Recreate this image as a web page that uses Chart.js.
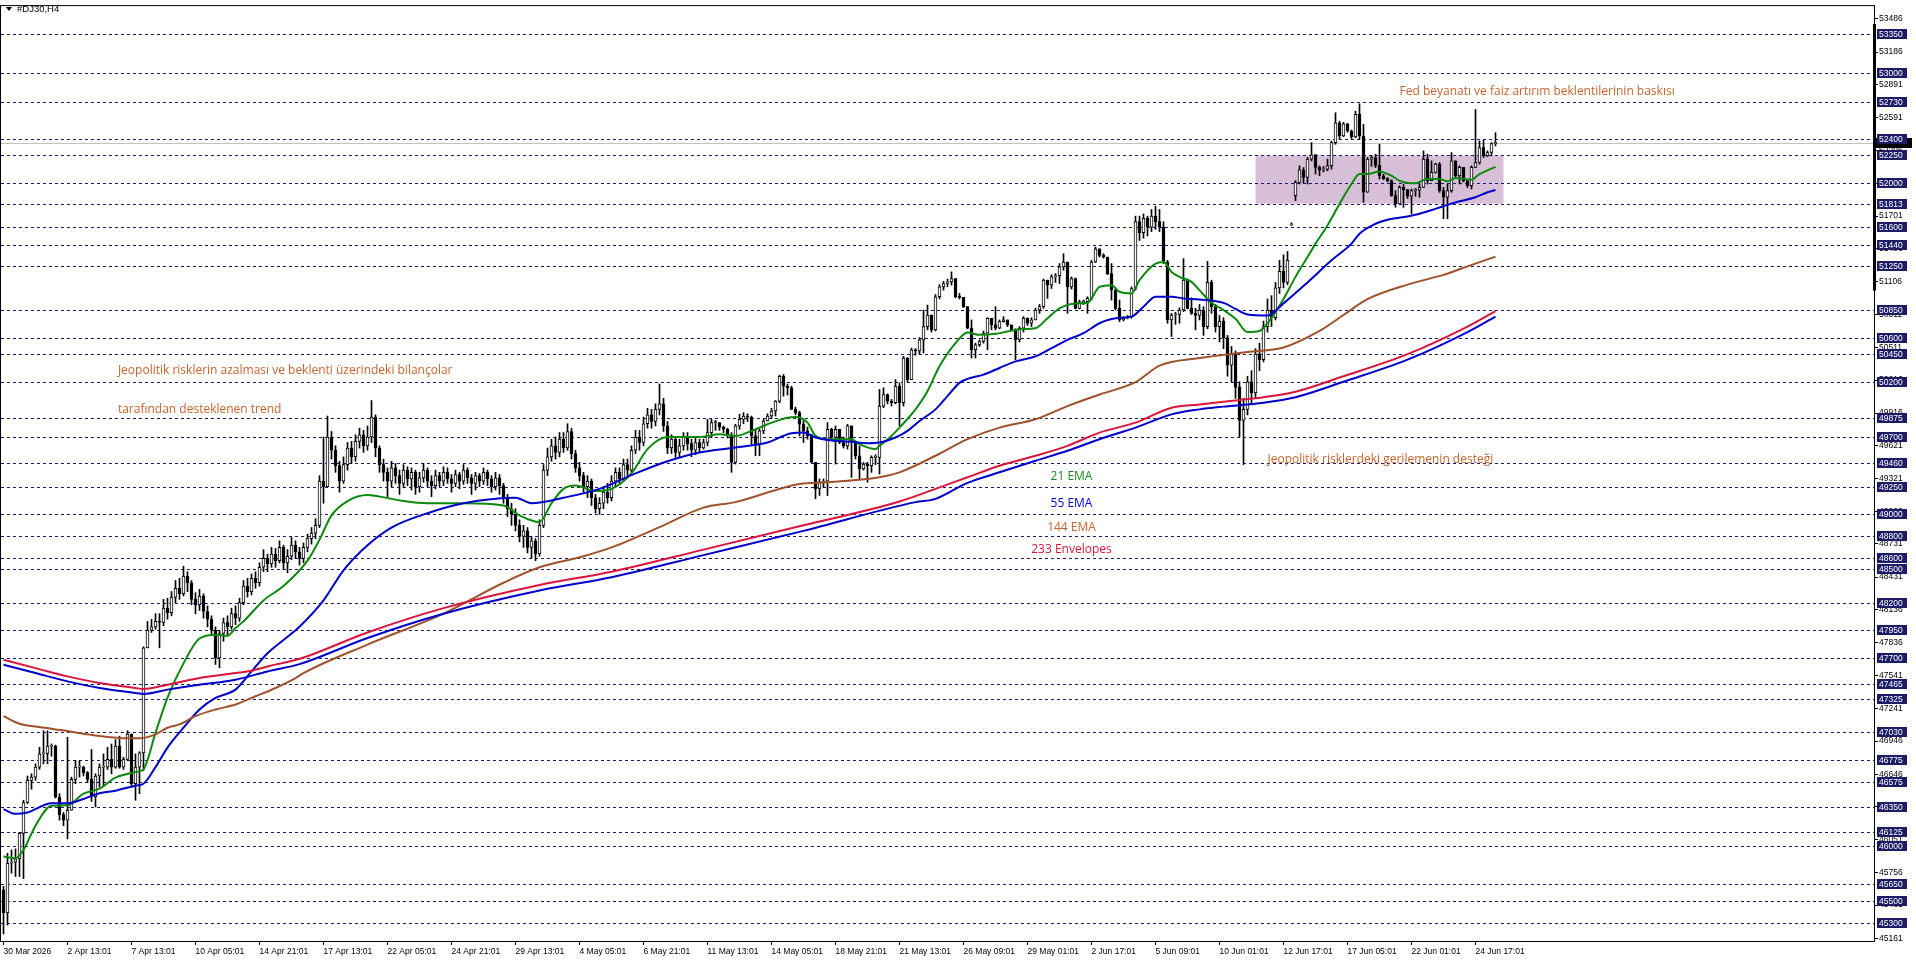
<!DOCTYPE html>
<html>
<head>
<meta charset="utf-8">
<title>#DJ30,H4</title>
<script src="https://cdn.jsdelivr.net/npm/chart.js@4.4.1/dist/chart.umd.min.js"></script>
<style>
  html, body { margin: 0; padding: 0; background: #fff; }
</style>
</head>
<body>
<canvas id="myChart" width="1916" height="963"></canvas>
<script>
// H4 bars, bar 0 = first bar on screen. open = previous close unless listed in openGaps
const closes = [
  45390, 45840, 45850, 45880, 46110, 46390, 46590, 46620, 46710, 46830,
  46835, 46900, 46900, 46440, 46280, 46230, 46320, 46600, 46710, 46710,
  46660, 46600, 46440, 46630, 46710, 46710, 46780, 46710, 46900, 46710,
  46780, 47010, 46560, 46710, 46840, 47790, 47950, 47980, 48030, 48020,
  48150, 48110, 48250, 48330, 48280, 48440, 48380, 48230, 48180, 48260,
  48120, 48050, 47950, 47700, 47920, 48020, 47980, 48100, 48060, 48200,
  48350, 48300, 48420, 48380, 48520, 48600, 48550, 48640, 48580, 48700,
  48560, 48620, 48720, 48660, 48600, 48700, 48780, 48830, 48900, 49300,
  49250, 49700, 49580, 49440, 49300, 49450, 49600, 49520, 49660, 49720,
  49620, 49700, 49880, 49600, 49450, 49380, 49300, 49420, 49350, 49280,
  49400, 49320, 49380, 49250, 49330, 49400, 49300, 49260, 49350, 49300,
  49380, 49320, 49280, 49360, 49300, 49400, 49330, 49280, 49350, 49300,
  49380, 49320, 49250, 49330, 49260, 49150, 49050, 49000, 48900, 48800,
  48850, 48700, 48760, 48640, 48900, 49400, 49520, 49620, 49560, 49680,
  49600, 49750, 49550, 49420, 49350, 49250, 49300, 49150, 49050, 49100,
  49200, 49150, 49300, 49380, 49320, 49450, 49400, 49580, 49700, 49650,
  49820, 49900, 49840, 49950, 50000, 49800, 49600, 49680, 49560, 49620,
  49700, 49640, 49580, 49650, 49600, 49650, 49740, 49830, 49830, 49790,
  49770, 49710, 49470, 49800, 49860, 49890, 49880, 49710, 49635, 49755,
  49845, 49890, 49935, 50025, 50250, 50160, 50145, 49950, 49920, 49815,
  49755, 49710, 49470, 49230, 49290, 49300, 49770, 49695, 49770, 49650,
  49620, 49800, 49650, 49530, 49410, 49455, 49440, 49515, 49515, 49980,
  50085, 50025, 50010, 50160, 50010, 50415, 50220, 50490, 50480, 50580,
  50700, 50805, 50670, 50970, 51060, 51090, 51105, 51135, 50970, 50965,
  50880, 50685, 50490, 50535, 50565, 50640, 50775, 50715, 50685, 50745,
  50760, 50715, 50670, 50580, 50685, 50775, 50730, 50760, 50850, 50880,
  51120, 51075, 51150, 51160, 51240, 51285, 51060, 51135, 50865, 50925,
  50925, 50955, 51285, 51405, 51345, 51330, 51180, 51030, 50865, 50760,
  50775, 50790, 51045, 51650, 51550, 51680, 51600, 51700, 51650, 51600,
  51285, 50760, 50805, 50810, 50850, 51120, 50865, 50820, 50800, 50850,
  50700, 51100, 50880, 50700, 50750, 50600, 50350, 50450, 50150, 49850,
  49950, 50200, 50100, 50450, 50400, 50700, 50850, 50780, 51050, 51200,
  51100, 51300, 51630, 52006, 52120, 52050, 52216, 52255, 52141, 52117,
  52126, 52156, 52366, 52546, 52426, 52537, 52471, 52417, 52621, 52426,
  51916, 52216, 52230, 52160, 52066, 52040, 52021, 51886, 51811, 51961,
  51940, 51880, 51931, 51935, 51961, 52216, 52021, 52096, 52171, 51931,
  51871, 51931, 52201, 52066, 52141, 52020, 51976, 52141, 52186, 52321,
  52246, 52276, 52357, 52360
];
const highs = [
  45630, 45930, 45960, 45970, 46120, 46410, 46630, 46650, 46740, 46890,
  47040, 47040, 46920, 46910, 46470, 46300, 46980, 46620, 46770, 46770,
  46720, 46670, 46870, 46650, 46740, 46830, 46890, 46920, 46960, 46990,
  46800, 47040, 47010, 46830, 46850, 47800, 48030, 48050, 48100, 48100,
  48230, 48240, 48300, 48400, 48420, 48530, 48480, 48400, 48290, 48320,
  48280, 48170, 48080, 47980, 47950, 48060, 48080, 48150, 48170, 48240,
  48400, 48420, 48460, 48480, 48560, 48680, 48640, 48700, 48690, 48760,
  48720, 48680, 48790, 48760, 48700, 48740, 48820, 48880, 48960, 49350,
  49700, 49890, 49750, 49620, 49480, 49520, 49650, 49660, 49720, 49780,
  49760, 49800, 50030, 49900, 49620, 49500, 49420, 49480, 49460, 49400,
  49450, 49430, 49420, 49400, 49380, 49460, 49420, 49350, 49400, 49380,
  49430, 49420, 49360, 49400, 49380, 49450, 49420, 49360, 49380, 49370,
  49420, 49400, 49350, 49380, 49360, 49280, 49180, 49100, 49050, 48950,
  48900, 48880, 48800, 48780, 48950, 49450, 49600, 49680, 49700, 49740,
  49740, 49820, 49780, 49580, 49470, 49380, 49350, 49320, 49180, 49150,
  49250, 49280, 49350, 49420, 49420, 49500, 49500, 49620, 49760, 49760,
  49880, 49960, 49950, 50000, 50180, 50050, 49840, 49720, 49700, 49680,
  49740, 49740, 49680, 49700, 49680, 49680, 49860, 49860, 49850, 49830,
  49800, 49780, 49740, 49815, 49905, 49920, 49910, 49890, 49760, 49770,
  49860, 49910, 49960, 50030, 50260, 50265, 50180, 50160, 49970, 49935,
  49850, 49790, 49725, 49470, 49320, 49320, 49830, 49780, 49800, 49740,
  49700, 49815, 49725, 49660, 49620, 49470, 49470, 49530, 49540, 50130,
  50145, 50090, 50040, 50220, 50190, 50430, 50420, 50505, 50500, 50600,
  50850, 50895, 50800, 50990, 51080, 51110, 51130, 51195, 51130, 51000,
  50960, 50880, 50760, 50550, 50580, 50660, 50780, 50775, 50880, 50760,
  50790, 50760, 50700, 50680, 50700, 50790, 50780, 50780, 50865, 50900,
  51130, 51120, 51170, 51180, 51270, 51360, 51280, 51150, 51140, 50940,
  50940, 50970, 51300, 51420, 51400, 51360, 51330, 51270, 51045, 50940,
  50790, 50800, 51060, 51700, 51700, 51720, 51700, 51760, 51790, 51760,
  51650, 51300, 50820, 50830, 50870, 51315, 51130, 50960, 50865, 50900,
  50880, 51290, 51120, 50900, 50800, 50780, 50620, 50520, 50480, 50200,
  50050, 50250, 50300, 50500, 50550, 50750, 50950, 50980, 51100, 51300,
  51350, 51380, 51640, 52021, 52156, 52140, 52231, 52366, 52260, 52156,
  52150, 52216, 52381, 52636, 52560, 52550, 52540, 52480, 52651, 52717,
  52531, 52231, 52250, 52260, 52351, 52080, 52050, 52030, 51931, 51976,
  51990, 51940, 51946, 51950, 51991, 52291, 52261, 52201, 52180, 52186,
  51960, 51991, 52276, 52201, 52156, 52070, 52030, 52156, 52666, 52381,
  52387, 52291, 52366, 52456
];
const lows = [
  45200, 45280, 45750, 45720, 45720, 45700, 46380, 46510, 46590, 46690,
  46740, 46740, 46810, 46430, 46230, 46180, 46060, 46330, 46560, 46620,
  46630, 46570, 46400, 46350, 46530, 46540, 46690, 46650, 46700, 46700,
  46690, 46770, 46530, 46410, 46470, 46680, 47790, 47930, 47960, 47790,
  47990, 48050, 48080, 48200, 48230, 48260, 48300, 48180, 48100, 48130,
  48060, 47980, 47900, 47640, 47610, 47850, 47900, 47960, 48000, 48030,
  48180, 48250, 48270, 48330, 48350, 48480, 48480, 48520, 48520, 48560,
  48500, 48470, 48590, 48600, 48540, 48560, 48660, 48730, 48780, 48880,
  49100, 49250, 49500, 49380, 49200, 49280, 49400, 49460, 49480, 49600,
  49560, 49580, 49650, 49520, 49380, 49300, 49150, 49250, 49280, 49180,
  49240, 49260, 49220, 49180, 49200, 49290, 49250, 49160, 49230, 49250,
  49260, 49280, 49200, 49250, 49230, 49270, 49280, 49180, 49220, 49250,
  49270, 49260, 49200, 49220, 49180, 49100, 48980, 48900, 48850, 48750,
  48700, 48650, 48600, 48580, 48620, 48880, 49350, 49480, 49500, 49520,
  49560, 49580, 49500, 49380, 49300, 49200, 49150, 49080, 49010, 49000,
  49050, 49100, 49120, 49250, 49270, 49300, 49350, 49380, 49550, 49580,
  49620, 49780, 49780, 49800, 49900, 49750, 49550, 49550, 49500, 49520,
  49580, 49580, 49520, 49540, 49560, 49590, 49620, 49695, 49760, 49760,
  49740, 49690, 49380, 49455, 49770, 49820, 49840, 49635, 49530, 49530,
  49730, 49850, 49870, 49890, 50010, 50070, 50080, 49950, 49900, 49710,
  49650, 49680, 49470, 49140, 49170, 49240, 49170, 49680, 49455, 49640,
  49600, 49590, 49335, 49500, 49320, 49400, 49290, 49380, 49450, 49365,
  49965, 50000, 49980, 50000, 49800, 49980, 50200, 50385, 50440, 50450,
  50460, 50670, 50650, 50660, 50950, 51030, 51060, 51075, 50960, 50950,
  50870, 50680, 50415, 50415, 50520, 50550, 50490, 50670, 50670, 50680,
  50740, 50700, 50660, 50400, 50560, 50650, 50710, 50700, 50760, 50820,
  50865, 50955, 51045, 51100, 51090, 51210, 50820, 51040, 50860, 50860,
  50900, 50820, 50940, 51280, 51330, 51320, 51170, 50940, 50850, 50745,
  50750, 50770, 50775, 51030, 51480, 51500, 51520, 51560, 51580, 51560,
  51270, 50730, 50610, 50720, 50730, 50835, 50860, 50810, 50670, 50760,
  50620, 50680, 50820, 50650, 50560, 50500, 50250, 50200, 50050, 49700,
  49450, 49900, 50000, 50050, 50300, 50380, 50650, 50700, 50760, 51000,
  51050, 51080, 51615, 51841, 51991, 52000, 51991, 52200, 52081, 52066,
  52100, 52110, 52126, 52351, 52396, 52420, 52460, 52400, 52411, 52396,
  51826, 51991, 52150, 52140, 52036, 52030, 52010, 51880, 51781, 51811,
  51780, 51860, 51721, 51880, 51871, 51961, 51991, 52051, 52090, 51916,
  51676, 51676, 51916, 52051, 51991, 52010, 51960, 51946, 52140, 52171,
  52231, 52240, 52246, 52336
];
const openGaps = [[0, 45600], [322, 51620], [323, 51886]];

// indicator lines as [bar, price]
const ema21 = [
  [0,45900],[3,45885],[5,45960],[8,46180],[12,46360],[16,46365],[20,46470],[24,46515],
  [28,46615],[33,46665],[35,46690],[38,47020],[41,47340],[45,47650],[49,47875],[53,47910],
  [56,47900],[58,47970],[60,48030],[65,48220],[70,48350],[76,48580],[79,48770],[82,48990],
  [86,49120],[91,49175],[94,49160],[100,49120],[106,49100],[115,49100],[125,49080],[129,48990],
  [134,48930],[137,49100],[140,49230],[143,49260],[148,49210],[152,49230],[157,49370],[161,49590],
  [166,49700],[170,49700],[174,49700],[179,49725],[183,49710],[187,49755],[191,49815],[196,49875],
  [198,49880],[201,49830],[203,49710],[206,49680],[212,49680],[214,49635],[218,49590],[219,49620],
  [222,49710],[224,49785],[228,49950],[231,50115],[234,50340],[238,50550],[241,50646],[244,50625],
  [248,50634],[251,50655],[254,50676],[258,50685],[261,50775],[264,50865],[268,50910],[271,50916],
  [274,51060],[277,51075],[279,51015],[282,51000],[284,51120],[288,51270],[290,51285],[292,51195],
  [294,51150],[297,51105],[299,51030],[302,50915],[305,50850],[308,50770],[311,50650],[314,50660],
  [317,50780],[320,50950],[323,51150],[326,51330],[328,51451],[331,51616],[334,51811],[337,51991],
  [339,52081],[341,52081],[344,52105],[347,52066],[349,52021],[353,51997],[356,52036],[359,52036],
  [361,52015],[363,52045],[367,52030],[369,52081],[373,52147]
];
const ema55 = [
  [0,46330],[3,46287],[6,46300],[12,46383],[16,46383],[20,46422],[24,46473],[28,46497],
  [33,46542],[35,46560],[38,46710],[41,46887],[45,47067],[49,47232],[53,47337],[58,47412],
  [62,47577],[66,47742],[70,47862],[74,47982],[80,48220],[85,48493],[91,48720],[97,48880],
  [106,49010],[115,49100],[128,49150],[132,49100],[140,49150],[149,49230],[158,49370],[166,49480],
  [174,49560],[183,49605],[191,49650],[197,49734],[200,49740],[203,49695],[208,49665],[212,49656],
  [216,49644],[219,49650],[223,49695],[226,49755],[229,49845],[233,49950],[236,50070],[239,50190],
  [241,50226],[245,50265],[249,50325],[253,50385],[258,50430],[262,50505],[266,50580],[270,50640],
  [274,50730],[278,50775],[282,50790],[285,50880],[288,50970],[292,50970],[295,50955],[299,50946],
  [305,50915],[308,50860],[311,50810],[316,50800],[320,50910],[326,51100],[332,51300],[337,51451],
  [339,51541],[343,51631],[346,51667],[351,51697],[354,51721],[358,51766],[361,51802],[364,51835],
  [368,51871],[371,51916],[373,51937]
];
const ema144 = [
  [0,47172],[4,47103],[9,47073],[13,47052],[16,47037],[21,47007],[26,46983],[31,46971],
  [34,46971],[38,47007],[41,47067],[44,47097],[48,47172],[53,47232],[58,47277],[63,47352],
  [68,47427],[73,47517],[75,47562],[91,47820],[110,48100],[125,48380],[134,48520],[145,48620],
  [152,48700],[165,48900],[175,49060],[183,49110],[199,49275],[206,49290],[219,49335],[224,49380],
  [233,49530],[241,49680],[249,49785],[258,49860],[266,49980],[274,50085],[283,50196],[289,50346],
  [299,50415],[302,50430],[311,50470],[320,50510],[329,50660],[335,50805],[341,50948],[351,51080],
  [360,51168],[366,51245],[373,51333]
];
const envUpper = [
  [0,47682],[8,47607],[16,47532],[24,47472],[33,47427],[35,47418],[41,47457],[49,47517],
  [58,47562],[62,47583],[66,47622],[74,47691],[91,47930],[110,48150],[134,48360],[152,48480],
  [175,48680],[200,48900],[224,49116],[233,49230],[241,49335],[249,49440],[258,49530],[266,49620],
  [274,49740],[283,49830],[292,49965],[299,49995],[305,50020],[315,50060],[323,50110],[335,50250],
  [351,50450],[366,50700],[373,50840]
];
const envLower = [
  [0,47637],[8,47562],[16,47487],[24,47427],[33,47382],[35,47373],[41,47412],[49,47457],
  [58,47502],[66,47577],[74,47643],[91,47880],[110,48100],[134,48310],[152,48430],[175,48630],
  [200,48850],[228,49110],[233,49140],[241,49284],[249,49380],[258,49485],[266,49575],[274,49680],
  [283,49785],[292,49905],[299,49950],[305,49975],[315,50010],[323,50060],[335,50200],[351,50400],
  [366,50650],[373,50790]
];

// time axis: one label every 16 bars
const dateLabels = [
  "30 Mar 2026", "2 Apr 13:01", "7 Apr 13:01", "10 Apr 05:01", "14 Apr 21:01", "17 Apr 13:01",
  "22 Apr 05:01", "24 Apr 21:01", "29 Apr 13:01", "4 May 05:01", "6 May 21:01", "11 May 13:01",
  "14 May 05:01", "18 May 21:01", "21 May 13:01", "26 May 09:01", "29 May 01:01", "2 Jun 17:01",
  "5 Jun 09:01", "10 Jun 01:01", "12 Jun 17:01", "17 Jun 05:01", "22 Jun 01:01", "24 Jun 17:01"
];
const labelEvery = 16;

// price axis ticks and the horizontal levels drawn on the chart
const priceTicks = [53486, 53186, 52891, 52591, 52296, 52000, 51701, 51406, 51106, 50811, 50511,
  50216, 49916, 49621, 49321, 49026, 48731, 48431, 48136, 47836, 47541, 47241, 46946, 46646,
  46351, 46051, 45756, 45461, 45161];
const levels = [53350, 53000, 52730, 52400, 52250, 52000, 51813, 51600, 51440, 51250, 50850,
  50600, 50450, 50200, 49875, 49700, 49460, 49250, 49000, 48800, 48600, 48500, 48200, 47950,
  47700, 47465, 47325, 47030, 46775, 46575, 46350, 46125, 46000, 45650, 45500, 45300];
const bidPrice = 52359;
const zoneBars = [313, 375];
const zonePrices = [51813, 52250];

const opens = closes.map((c, i) => i === 0 ? c : closes[i - 1]);
openGaps.forEach(([i, o]) => { opens[i] = o; });

const toXY = (pts) => pts.map(([b, v]) => ({ x: b, y: v }));
const axisFont = { family: '"Liberation Sans", Arial, sans-serif', size: 8.5 };
const noteFont = '12px "Open Sans", "Liberation Sans", sans-serif';

const notes = [
  { text: 'Fed beyanatı ve faiz artırım beklentilerinin baskısı', bar: 349, price: 52830, color: '#c8642d', align: 'left' },
  { text: 'Jeopolitik risklerin azalması ve beklenti üzerindeki bilançolar', bar: 28.6, price: 50297, color: '#c8642d', align: 'left' },
  { text: 'tarafından desteklenen trend', bar: 28.6, price: 49946, color: '#c8642d', align: 'left' },
  { text: 'Jeopolitik risklerdeki gerilemenin desteği', bar: 316, price: 49495, color: '#c8642d', align: 'left' },
  { text: '21 EMA', bar: 267, price: 49342, color: '#1e8c1e', align: 'center' },
  { text: '55 EMA', bar: 267, price: 49099, color: '#0000dd', align: 'center' },
  { text: '144 EMA', bar: 267, price: 48883, color: '#c8642d', align: 'center' },
  { text: '233 Envelopes', bar: 267, price: 48676, color: '#dc143c', align: 'center' }
];

const mtDecor = {
  id: 'mtDecor',
  beforeDatasetsDraw(chart) {
    const { ctx, chartArea: a, scales: { x, y } } = chart;
    ctx.save();
    // shaded zone
    const zx1 = x.getPixelForValue(zoneBars[0]), zx2 = x.getPixelForValue(zoneBars[1]);
    const zy1 = y.getPixelForValue(zonePrices[1]), zy2 = y.getPixelForValue(zonePrices[0]);
    ctx.fillStyle = '#d8bfd8';
    ctx.fillRect(zx1, zy1, zx2 - zx1, zy2 - zy1);
    // dashed levels
    ctx.strokeStyle = '#1b1b70';
    ctx.lineWidth = 1;
    ctx.setLineDash([3, 3]);
    levels.forEach(v => {
      const py = Math.round(y.getPixelForValue(v)) + 0.5;
      ctx.beginPath();
      ctx.moveTo(a.left, py);
      ctx.lineTo(a.right, py);
      ctx.stroke();
    });
    // bid line
    ctx.setLineDash([]);
    ctx.strokeStyle = '#c0c0c0';
    const by = Math.round(y.getPixelForValue(bidPrice)) + 0.5;
    ctx.beginPath();
    ctx.moveTo(a.left, by);
    ctx.lineTo(a.right, by);
    ctx.stroke();
    ctx.restore();
  },
  afterDatasetsDraw(chart) {
    const { ctx, scales: { x, y } } = chart;
    ctx.save();
    ctx.font = noteFont;
    ctx.textBaseline = 'middle';
    notes.forEach(n => {
      ctx.fillStyle = n.color;
      ctx.textAlign = n.align;
      ctx.fillText(n.text, x.getPixelForValue(n.bar), y.getPixelForValue(n.price));
    });
    ctx.restore();
  },
  afterDraw(chart) {
    const { ctx, chartArea: a, scales: { y } } = chart;
    ctx.save();
    // frame
    ctx.strokeStyle = '#000';
    ctx.lineWidth = 1;
    ctx.strokeRect(a.left - 0.5, a.top - 0.5, a.right - a.left + 1, a.bottom - a.top + 1);
    // thick part of the price axis
    const t1 = y.getPixelForValue(53440), t2 = y.getPixelForValue(51026);
    ctx.fillStyle = '#000';
    ctx.fillRect(a.right - 1, t1, 3, t2 - t1);
    // level and bid boxes on the axis
    ctx.font = '8.5px "Liberation Sans", Arial, sans-serif';
    ctx.textBaseline = 'middle';
    ctx.textAlign = 'left';
    let py = Math.round(y.getPixelForValue(bidPrice));
    ctx.fillStyle = '#000';
    ctx.fillRect(a.right + 2, py - 5, 36, 10);
    levels.forEach(v => {
      py = Math.round(y.getPixelForValue(v));
      ctx.fillStyle = '#1b1b66';
      ctx.fillRect(a.right + 3, py - 5, 30, 10);
      ctx.fillStyle = '#fff';
      ctx.fillText(String(v), a.right + 5, py + 0.5);
    });
    // title
    ctx.fillStyle = '#000';
    ctx.beginPath();
    ctx.moveTo(6, 7); ctx.lineTo(12, 7); ctx.lineTo(9, 11); ctx.closePath();
    ctx.fill();
    ctx.font = '9.5px "Liberation Sans", Arial, sans-serif';
    ctx.fillText('#DJ30,H4', 17, 9);
    ctx.restore();
  }
};

const lineSet = (data, color) => ({
  type: 'line', data: toXY(data), borderColor: color, borderWidth: 2,
  pointRadius: 0, cubicInterpolationMode: 'monotone', order: 0
});

const ctx = document.getElementById('myChart');
new Chart(ctx, {
  type: 'bar',
  data: {
    datasets: [
      lineSet(envLower, '#0000cc'),
      lineSet(envUpper, '#dc143c'),
      lineSet(ema144, '#a0522d'),
      lineSet(ema55, '#0000cc'),
      lineSet(ema21, '#0b8a0b'),
      {
        label: 'bodies',
        data: closes.map((c, i) => ({ x: i, y: [opens[i], c] })),
        backgroundColor: closes.map((c, i) => c >= opens[i] ? '#fff' : '#000'),
        borderColor: '#000', borderWidth: 1, borderSkipped: false,
        barThickness: 3, minBarLength: 1, grouped: false, order: 1
      },
      {
        label: 'wicks',
        data: closes.map((c, i) => ({ x: i, y: [Math.min(lows[i], opens[i], c), Math.max(highs[i], opens[i], c)] })),
        backgroundColor: '#000', borderWidth: 0,
        barThickness: 1, grouped: false, order: 2
      }
    ]
  },
  options: {
    responsive: false,
    animation: false,
    devicePixelRatio: 1,
    layout: { padding: { left: 1, top: 1, right: 0, bottom: 0 } },
    plugins: { legend: { display: false }, tooltip: { enabled: false } },
    scales: {
      x: {
        type: 'linear', min: -0.625, max: 467.625, offset: false,
        grid: { drawOnChartArea: false, drawTicks: true, tickLength: 4, color: '#000', offset: false },
        border: { display: false },
        afterBuildTicks: s => { s.ticks = dateLabels.map((_, k) => ({ value: k * labelEvery })); },
        afterFit: s => { s.height = 22; },
        ticks: {
          autoSkip: false, maxRotation: 0, align: 'start', padding: 2,
          color: '#000', font: axisFont,
          callback: (v, i) => dateLabels[i]
        }
      },
      y: {
        type: 'linear', position: 'right', min: 45135.6, max: 53602.2,
        grid: { drawOnChartArea: false, drawTicks: true, tickLength: 4, color: '#000' },
        border: { display: false },
        afterBuildTicks: s => { s.ticks = priceTicks.map(v => ({ value: v })); },
        afterFit: s => { s.width = 42; },
        ticks: { autoSkip: false, padding: 1, color: '#000', font: axisFont, callback: v => String(v) }
      }
    }
  },
  plugins: [mtDecor]
});
</script>
</body>
</html>
